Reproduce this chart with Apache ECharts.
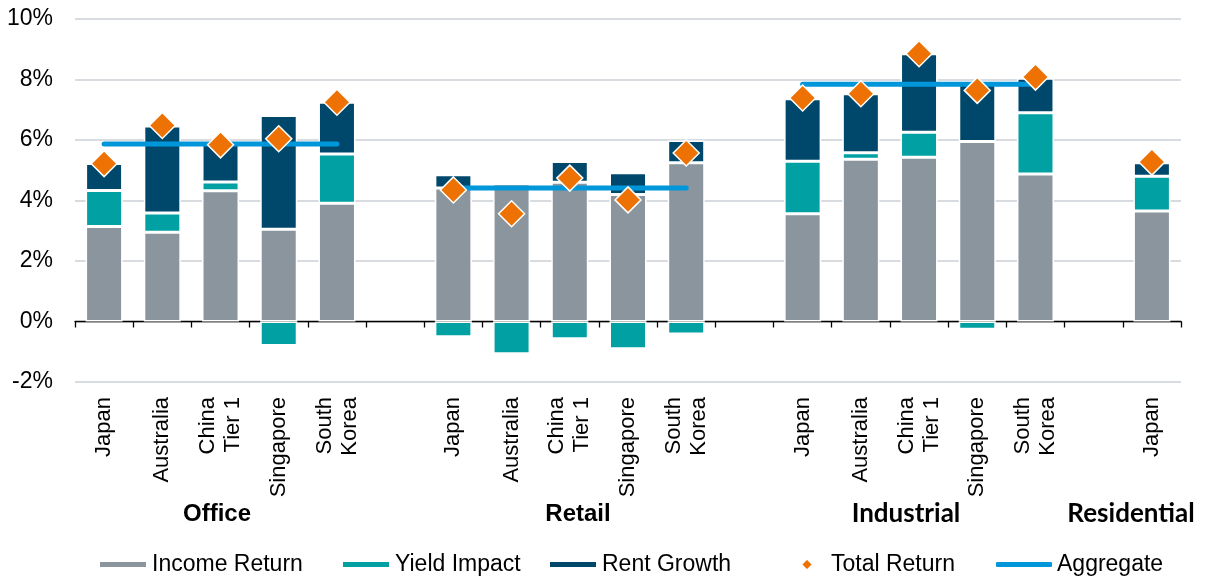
<!DOCTYPE html>
<html>
<head>
<meta charset="utf-8">
<title>Return breakdown</title>
<script src="https://cdn.jsdelivr.net/npm/echarts@6/dist/echarts.min.js"></script>
<style>
  html, body { margin: 0; padding: 0; background: #fff; }
  #chart { width: 1205px; height: 578px; }
</style>
</head>
<body>
<div id="chart"></div>
<script>
// categories (blank entries are the gaps between sectors)
var categories = [
  "Japan", "Australia", "China\nTier 1", "Singapore", "South\nKorea", "",
  "Japan", "Australia", "China\nTier 1", "Singapore", "South\nKorea", " ",
  "Japan", "Australia", "China\nTier 1", "Singapore", "South\nKorea", "  ",
  "Japan"
];
var sectors = ["Office", "Retail", "Industrial", "Residential"];
var yTicks = [-2, 0, 2, 4, 6, 8, 10];

// values in %
var incomeReturn = [3.14, 2.95, 4.32, 3.05, 3.91, null, 4.41, 4.55, 4.6, 4.2, 5.25, null, 3.56, 5.36, 5.43, 5.95, 4.88, null, 3.65];
var yieldImpact = [1.19, 0.64, 0.29, -0.79, 1.63, null, -0.5, -1.07, -0.57, -0.9, -0.41, null, 1.74, 0.22, 0.83, -0.26, 2.02, null, 1.15];
var rentGrowth = [0.89, 2.87, 1.24, 3.76, 1.71, null, 0.44, 0.08, 0.69, 0.72, 0.73, null, 2.06, 1.95, 2.59, 1.95, 1.14, null, 0.45];
var totalReturn = [5.22, 6.48, 5.84, 6.04, 7.25, null, 4.35, 3.56, 4.74, 4.02, 5.57, null, 7.39, 7.53, 8.85, 7.64, 8.08, null, 5.27];
var aggregate = [5.87, 5.87, 5.87, 5.87, 5.87, null, 4.41, 4.41, 4.41, 4.41, 4.41, null, 7.84, 7.84, 7.84, 7.84, 7.84, null, null];

var font = "'Liberation Sans', Arial, sans-serif";

function barSeries(name, data, color) {
  return {
    name: name,
    type: "bar",
    stack: "total",
    data: data,
    barWidth: 37,
    itemStyle: { color: color, borderColor: "#fff", borderWidth: 1.5 }
  };
}

function legendItem(name, left, opts) {
  var l = {
    data: [name],
    left: left,
    top: 548,
    itemWidth: 48,
    itemHeight: 7,
    icon: "rect",
    textStyle: { fontSize: 23, color: "#000", fontFamily: font }
  };
  for (var k in opts) l[k] = opts[k];
  return l;
}

var chart = echarts.init(document.getElementById("chart"));

var option = {
  animation: false,
  grid: { left: 75, right: 24, top: 19, bottom: 196 },
  legend: [
    legendItem("Income Return", 93),
    legendItem("Yield Impact", 336),
    legendItem("Rent Growth", 543),
    legendItem("Total Return", 795, {
      icon: "diamond", itemWidth: 12, itemHeight: 12,
      textStyle: { fontSize: 23, color: "#000", fontFamily: font, padding: [0, 0, 0, 13] }
    }),
    legendItem("Aggregate", 991, {
      data: [{ name: "Aggregate", icon: "roundRect", itemStyle: { color: "#0096DA" } }],
      itemWidth: 56, itemHeight: 5
    })
  ],
  xAxis: [
    {
      // zero line with ticks between categories
      type: "category",
      data: categories,
      position: "top",
      axisLine: { onZero: true, lineStyle: { color: "#000", width: 1.3 } },
      axisTick: { show: true, inside: true, length: 6, interval: 0, lineStyle: { color: "#000", width: 1.3 } },
      axisLabel: { show: false }
    },
    {
      // labels below the plot
      type: "category",
      data: categories,
      position: "bottom",
      axisLine: { show: false, onZero: false },
      axisTick: { show: false },
      axisLabel: {
        interval: 0,
        rotate: 90,
        margin: 15,
        fontSize: 22,
        lineHeight: 25,
        color: "#000",
        fontFamily: font
      }
    }
  ],
  yAxis: {
    type: "value",
    min: yTicks[0],
    max: yTicks[yTicks.length - 1],
    interval: 2,
    axisLine: { show: false },
    axisTick: { show: false },
    axisLabel: { formatter: "{value}%", fontSize: 23, color: "#000", margin: 22, fontFamily: font },
    splitLine: { lineStyle: { color: "#CBD0D6", width: 1.5 } }
  },
  series: [
    barSeries("Income Return", incomeReturn, "#8A959E"),
    barSeries("Yield Impact", yieldImpact, "#00A0A3"),
    barSeries("Rent Growth", rentGrowth, "#00486B"),
    {
      name: "Aggregate",
      type: "line",
      data: aggregate,
      showSymbol: false,
      symbol: "none",
      connectNulls: false,
      z: 5,
      lineStyle: { color: "#0096DA", width: 5, cap: "round" },
      itemStyle: { color: "#0096DA" }
    },
    {
      name: "Total Return",
      type: "scatter",
      data: totalReturn,
      symbol: "diamond",
      symbolSize: 26,
      z: 6,
      itemStyle: { color: "#EE7203", borderColor: "#fff", borderWidth: 1.5, opacity: 1 }
    }
  ],
  graphic: [
    { type: "text", x: 217, y: 514, style: { text: sectors[0], fontSize: 24, fontWeight: "bold", fontFamily: font, fill: "#000", align: "center", verticalAlign: "middle" } },
    { type: "text", x: 578, y: 514, style: { text: sectors[1], fontSize: 24, fontWeight: "bold", fontFamily: font, fill: "#000", align: "center", verticalAlign: "middle" } },
    { type: "text", x: 906, y: 514, style: { text: sectors[2], fontSize: 26, fontWeight: "bold", fontFamily: "Lato, sans-serif", fill: "#000", align: "center", verticalAlign: "middle" } },
    { type: "text", x: 1131, y: 514, style: { text: sectors[3], fontSize: 26, fontWeight: "bold", fontFamily: "Lato, sans-serif", fill: "#000", align: "center", verticalAlign: "middle" } }
  ]
};

chart.setOption(option);
</script>
</body>
</html>
